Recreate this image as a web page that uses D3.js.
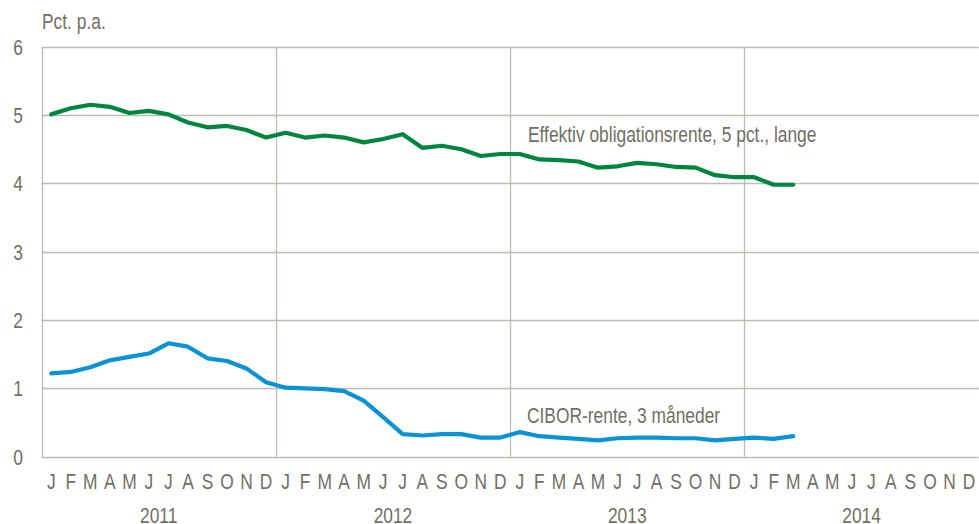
<!DOCTYPE html>
<html>
<head>
<meta charset="utf-8">
<script src="https://cdn.jsdelivr.net/npm/d3@7"></script>
<style>
  body { margin: 0; background: #fff; }
  text { font-family: "Liberation Sans", Arial, sans-serif; fill: #707063; font-size: 22px; }
</style>
</head>
<body>
<div id="chart"></div>
<script>
var years = ["2011", "2012", "2013", "2014"];
var monthLetters = ["J", "F", "M", "A", "M", "J", "J", "A", "S", "O", "N", "D"];
var yTicks = [0, 1, 2, 3, 4, 5, 6];

// Jan 2011 - Mar 2014
var obligation = [5.01, 5.10, 5.15, 5.12, 5.03, 5.06, 5.01, 4.89, 4.82, 4.84, 4.78, 4.67,
                  4.74, 4.67, 4.70, 4.67, 4.60, 4.65, 4.72, 4.52, 4.55, 4.50, 4.40, 4.43,
                  4.43, 4.35, 4.34, 4.32, 4.23, 4.25, 4.30, 4.28, 4.24, 4.23, 4.12, 4.09,
                  4.09, 3.98, 3.98];
var cibor = [1.22, 1.24, 1.31, 1.41, 1.46, 1.51, 1.66, 1.61, 1.44, 1.40, 1.29, 1.09,
             1.01, 1.00, 0.99, 0.96, 0.82, 0.58, 0.33, 0.31, 0.33, 0.33, 0.28, 0.28,
             0.36, 0.30, 0.28, 0.26, 0.24, 0.27, 0.28, 0.28, 0.27, 0.27, 0.24, 0.26,
             0.28, 0.26, 0.30];

var width = 979, height = 524;
var margin = {left: 41.5, right: 0.3, top: 46.7, bottom: 67.3};
var narrow = 0.79; // mimic a narrow face

var months = [];
years.forEach(function(y) {
  monthLetters.forEach(function(m, i) { months.push(y + "-" + i); });
});

var x = d3.scaleBand()
    .domain(months)
    .range([margin.left, width - margin.right]);

var xYear = d3.scaleBand()
    .domain(years)
    .range([margin.left, width - margin.right]);

var y = d3.scaleLinear()
    .domain([0, 6])
    .range([height - margin.bottom, margin.top]);

var svg = d3.select("#chart").append("svg")
    .attr("width", width)
    .attr("height", height);

function place(px, py) {
  return "translate(" + px + "," + py + ") scale(" + narrow + ",1)";
}

// horizontal grid
svg.append("g").selectAll("line")
  .data(yTicks)
  .enter().append("line")
    .attr("x1", margin.left)
    .attr("x2", width - margin.right)
    .attr("y1", function(d) { return Math.round(y(d)) + 0.5; })
    .attr("y2", function(d) { return Math.round(y(d)) + 0.5; })
    .attr("stroke", "#bdbcb0")
    .attr("stroke-width", 1.3);

// vertical grid at year boundaries
svg.append("g").selectAll("line")
  .data(years)
  .enter().append("line")
    .attr("x1", function(d) { return Math.round(xYear(d)) + 0.5; })
    .attr("x2", function(d) { return Math.round(xYear(d)) + 0.5; })
    .attr("y1", y(6))
    .attr("y2", y(0))
    .attr("stroke", "#bdbcb0")
    .attr("stroke-width", 1.3);

// y labels
svg.append("g").selectAll("text")
  .data(yTicks)
  .enter().append("text")
    .attr("transform", function(d) { return place(23, y(d)); })
    .attr("dy", "0.36em")
    .attr("text-anchor", "end")
    .text(function(d) { return d; });

svg.append("text")
    .attr("transform", place(42, 29))
    .text("Pct. p.a.");

// month labels
svg.append("g").selectAll("text")
  .data(months)
  .enter().append("text")
    .attr("transform", function(d) { return place(x(d) + x.bandwidth() / 2, 489); })
    .attr("text-anchor", "middle")
    .text(function(d) { return monthLetters[+d.split("-")[1]]; });

// year labels
svg.append("g").selectAll("text")
  .data(years)
  .enter().append("text")
    .attr("transform", function(d) { return place(xYear(d) + xYear.bandwidth() / 2, 523); })
    .attr("text-anchor", "middle")
    .text(function(d) { return d; });

var line = d3.line()
    .x(function(d, i) { return x(months[i]) + x.bandwidth() / 2; })
    .y(function(d) { return y(d); });

svg.append("path")
    .datum(obligation)
    .attr("fill", "none")
    .attr("stroke", "#00873e")
    .attr("stroke-width", 4.2)
    .attr("stroke-linejoin", "round")
    .attr("stroke-linecap", "round")
    .attr("d", line);

svg.append("path")
    .datum(cibor)
    .attr("fill", "none")
    .attr("stroke", "#0a94d6")
    .attr("stroke-width", 4.2)
    .attr("stroke-linejoin", "round")
    .attr("stroke-linecap", "round")
    .attr("d", line);

svg.append("text")
    .attr("transform", place(528, 142))
    .text("Effektiv obligationsrente, 5 pct., lange");

svg.append("text")
    .attr("transform", place(527, 423))
    .text("CIBOR-rente, 3 måneder");
</script>
</body>
</html>
